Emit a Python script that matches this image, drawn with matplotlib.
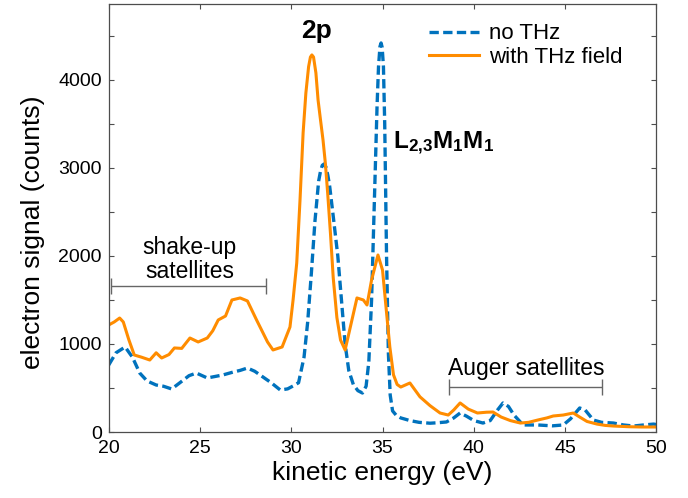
import matplotlib
matplotlib.use('Agg')
import matplotlib.pyplot as plt
from matplotlib.ticker import MultipleLocator

plt.rcParams['font.family'] = ['Liberation Sans', 'DejaVu Sans']
plt.rcParams['mathtext.fontset'] = 'custom'
plt.rcParams['mathtext.rm'] = 'Liberation Sans'
plt.rcParams['mathtext.bf'] = 'Liberation Sans:bold'

# no THz (blue dashed)
energy_no = [20.0, 20.4, 20.9, 21.3, 21.7, 22.1, 22.6, 23.0, 23.45, 23.9, 24.4, 24.8,
             25.4, 25.8, 26.25, 26.8, 27.2, 27.6, 28.0, 28.45, 28.9, 29.4, 29.8, 30.1,
             30.4, 30.7, 30.9, 31.1, 31.3, 31.5, 31.6, 31.7, 31.8, 31.9, 32.0, 32.1,
             32.3, 32.55, 32.75, 32.95, 33.15, 33.4, 33.65, 33.9, 34.1, 34.25, 34.4,
             34.55, 34.7, 34.78, 34.86, 34.92, 34.98, 35.05, 35.12, 35.22, 35.32, 35.42,
             35.55, 35.75, 36.0, 36.5, 37.0, 37.6, 38.0, 38.5, 38.9, 39.25, 39.6, 40.0,
             40.5, 40.9, 41.3, 41.6, 41.9, 42.2, 42.7, 43.5, 44.3, 44.9, 45.3, 45.8,
             46.1, 46.55, 47.0, 47.65, 48.2, 48.75, 49.3, 49.85, 50.0]
counts_no = [761, 900, 966, 850, 670, 580, 534, 520, 489, 560, 640, 670,
             614, 630, 648, 680, 700, 727, 690, 625, 560, 477, 490, 523,
             560, 850, 1250, 1800, 2400, 2850, 2960, 3030, 3045, 3010, 2920, 2800,
             2450, 2000, 1500, 1000, 700, 540, 470, 443, 520, 800, 1500,
             2600, 3700, 4150, 4380, 4420, 4370, 4150, 3500, 2000, 900, 420,
             240, 190, 160, 130, 110, 100, 105, 114, 160, 216, 180, 130,
             102, 130, 250, 330, 290, 193, 80, 80, 70, 80, 150, 273,
             250, 136, 110, 102, 80, 68, 80, 90, 85]

# with THz field (orange solid)
energy_thz = [20.0, 20.3, 20.6, 20.8, 21.1, 21.4, 21.8, 22.25, 22.6, 22.9, 23.3, 23.6,
              24.0, 24.45, 24.9, 25.4, 25.7, 26.0, 26.4, 26.75, 27.2, 27.6, 28.1, 28.7,
              29.0, 29.5, 29.93, 30.1, 30.3, 30.48, 30.65, 30.8, 30.95, 31.05, 31.13,
              31.22, 31.35, 31.47, 31.6, 31.74, 31.87, 32.0, 32.15, 32.3, 32.5, 32.7,
              32.95, 33.2, 33.6, 33.95, 34.15, 34.4, 34.75, 35.0, 35.2, 35.4, 35.6,
              35.8, 36.0, 36.5, 37.05, 37.6, 38.15, 38.6, 38.9, 39.25, 39.7, 40.2,
              40.7, 41.05, 41.5, 42.0, 42.55, 43.0, 43.5, 44.0, 44.35, 44.9, 45.45,
              45.8, 46.2, 46.75, 47.2, 47.65, 48.5, 49.2, 49.85, 50.0]
counts_thz = [1216, 1250, 1295, 1250, 1050, 875, 850, 818, 900, 841, 880, 955,
              950, 1068, 1023, 1068, 1150, 1273, 1318, 1500, 1523, 1489, 1273, 1023,
              932, 966, 1193, 1500, 1920, 2636, 3400, 3850, 4150, 4260, 4284,
              4260, 4080, 3770, 3550, 3318, 3050, 2700, 2250, 1750, 1300, 1045,
              932, 1160, 1523, 1500, 1443, 1727, 2011, 1840, 1400, 966, 650,
              540, 511, 557, 400, 300, 216, 193, 250, 330, 260, 216,
              225, 227, 170, 130, 102, 110, 136, 160, 182, 193, 216,
              170, 120, 90, 75, 68, 60, 57, 57, 57]

fig = plt.figure(figsize=(6.88, 4.98), dpi=100)
ax = fig.add_axes([0.158, 0.1325, 0.796, 0.859])

ax.plot(energy_no, counts_no, '--', color='#0072BD', lw=2.4, dashes=(2.8, 1.3), label='no THz')
ax.plot(energy_thz, counts_thz, '-', color='#FF8C00', lw=2.2, label='with THz field')

ax.set_xlim(20, 50)
ax.set_ylim(0, 4860)
ax.xaxis.set_major_locator(MultipleLocator(5))
ax.yaxis.set_major_locator(MultipleLocator(1000))
ax.yaxis.set_minor_locator(MultipleLocator(500))
ax.tick_params(which='both', direction='in', top=True, right=True, length=3.5,
               width=0.8, color='#4d4d4d', labelsize=14)
ax.tick_params(axis='x', pad=5.5)
ax.tick_params(axis='y', pad=5)
for s in ax.spines.values():
    s.set_color('#4d4d4d')
    s.set_linewidth(0.9)

ax.set_xlabel('kinetic energy (eV)', fontsize=19, labelpad=3)
ax.set_ylabel('electron signal (counts)', fontsize=19)
ax.yaxis.set_label_coords(-0.116, 0.467)

ax.legend(loc='upper left', bbox_to_anchor=(0.585, 0.955), frameon=False, fontsize=16,
          handlelength=2.25, handletextpad=0.45, borderpad=0, borderaxespad=0,
          labelspacing=0.12)

ax.text(31.4, 4560, '2p', fontsize=19, fontweight='bold', ha='center', va='center')
ax.text(35.6, 3280, r'$\mathbf{L_{2{,}3}M_1M_1}$', fontsize=17.5, ha='left', va='center')

ax.text(24.44, 1955, 'shake-up\nsatellites', fontsize=16.5, ha='center', va='center',
        linespacing=1.05)
ax.errorbar((20.15 + 28.6) / 2, 1659, xerr=(28.6 - 20.15) / 2, color='#666666',
            lw=1, capsize=6, capthick=1)
ax.text(42.87, 720, 'Auger satellites', fontsize=16.5, ha='center', va='center')
ax.errorbar((38.65 + 47.0) / 2, 511, xerr=(47.0 - 38.65) / 2, color='#666666',
            lw=1, capsize=6, capthick=1)

fig.savefig('out.png', dpi=100)
